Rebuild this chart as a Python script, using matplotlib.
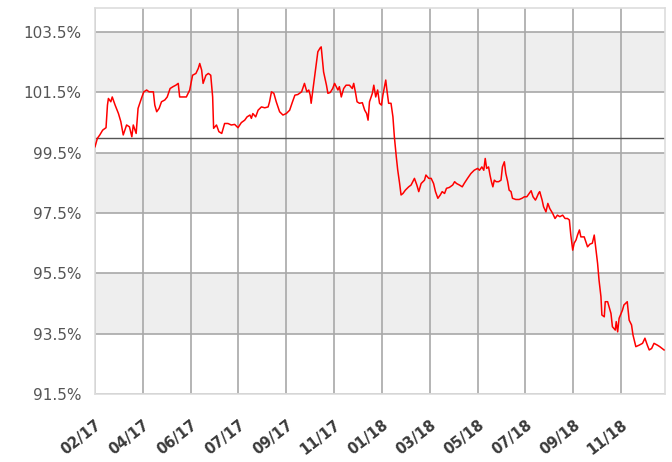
import matplotlib
matplotlib.use("Agg")
import matplotlib.pyplot as plt
import matplotlib.transforms as mtransforms

# donnees (abscisse en nb d'intervalles entre reperes)
etiquettes = ["02/17", "04/17", "06/17", "07/17", "09/17", "11/17",
              "01/18", "03/18", "05/18", "07/18", "09/18", "11/18"]
graduations_y = [91.5, 93.5, 95.5, 97.5, 99.5, 101.5, 103.5]

abscisses = [
    0.00, 0.05, 0.10, 0.16, 0.23, 0.26, 0.28, 0.33, 0.36, 0.42, 0.49, 0.54,
    0.59, 0.66, 0.72, 0.77, 0.80, 0.86, 0.90, 0.97, 1.02, 1.08, 1.13, 1.22,
    1.25, 1.29, 1.34, 1.39, 1.46, 1.51, 1.57, 1.63, 1.69, 1.74, 1.77, 1.84,
    1.91, 1.98, 2.04, 2.11, 2.16, 2.19, 2.23, 2.26, 2.32, 2.37, 2.42, 2.46,
    2.48, 2.54, 2.59, 2.65, 2.71, 2.78, 2.85, 2.92, 2.99, 3.06, 3.13, 3.18,
    3.24, 3.27, 3.30, 3.36, 3.41, 3.48, 3.55, 3.62, 3.65, 3.69, 3.74, 3.79,
    3.86, 3.93, 4.00, 4.07, 4.13, 4.18, 4.24, 4.32, 4.38, 4.43, 4.47, 4.50,
    4.52, 4.56, 4.61, 4.66, 4.71, 4.73, 4.78, 4.84, 4.87, 4.92, 4.97, 5.01,
    5.08, 5.11, 5.15, 5.20, 5.25, 5.32, 5.38, 5.41, 5.45, 5.48, 5.53, 5.59,
    5.64, 5.68, 5.71, 5.74, 5.80, 5.83, 5.87, 5.91, 5.95, 5.99, 6.02, 6.08,
    6.10, 6.14, 6.19, 6.23, 6.26, 6.30, 6.33, 6.37, 6.40, 6.44, 6.49, 6.56,
    6.61, 6.68, 6.73, 6.77, 6.82, 6.89, 6.92, 6.98, 7.03, 7.08, 7.12, 7.17,
    7.22, 7.26, 7.31, 7.35, 7.41, 7.48, 7.52, 7.56, 7.62, 7.68, 7.72, 7.79,
    7.86, 7.93, 8.00, 8.04, 8.09, 8.13, 8.16, 8.19, 8.23, 8.26, 8.29, 8.32,
    8.35, 8.39, 8.44, 8.49, 8.52, 8.56, 8.59, 8.63, 8.66, 8.70, 8.73, 8.80,
    8.87, 8.93, 8.98, 9.03, 9.08, 9.12, 9.16, 9.21, 9.23, 9.28, 9.30, 9.35,
    9.38, 9.43, 9.47, 9.51, 9.57, 9.62, 9.67, 9.72, 9.78, 9.83, 9.88, 9.92,
    9.95, 9.99, 10.02, 10.06, 10.09, 10.13, 10.16, 10.23, 10.30, 10.35, 10.40, 10.44,
    10.47, 10.51, 10.54, 10.58, 10.60, 10.65, 10.67, 10.72, 10.75, 10.79, 10.82, 10.88,
    10.90, 10.93, 10.96, 11.03, 11.06, 11.13, 11.17, 11.22, 11.25, 11.31, 11.38, 11.45,
    11.50, 11.55, 11.59, 11.64, 11.69, 11.76, 11.81, 11.90,
]
valeurs = [
    99.70, 99.98, 100.09, 100.25, 100.33, 101.08, 101.30, 101.19, 101.35, 101.08, 100.80, 100.53,
    100.09, 100.42, 100.36, 100.03, 100.42, 100.14, 100.97, 101.30, 101.52, 101.58, 101.52, 101.52,
    101.08, 100.86, 100.97, 101.19, 101.25, 101.35, 101.63, 101.69, 101.74, 101.80, 101.35, 101.35,
    101.35, 101.58, 102.07, 102.13, 102.30, 102.46, 102.24, 101.80, 102.07, 102.13, 102.07, 101.35,
    100.31, 100.42, 100.20, 100.14, 100.47, 100.47, 100.42, 100.44, 100.33, 100.50, 100.58, 100.69,
    100.75, 100.64, 100.80, 100.69, 100.91, 101.02, 100.99, 101.02, 101.19, 101.52, 101.47, 101.19,
    100.86, 100.75, 100.80, 100.91, 101.19, 101.41, 101.43, 101.52, 101.80, 101.52, 101.58, 101.41,
    101.14, 101.63, 102.24, 102.85, 102.98, 103.01, 102.18, 101.74, 101.47, 101.50, 101.63, 101.80,
    101.58, 101.69, 101.35, 101.63, 101.74, 101.74, 101.63, 101.80, 101.47, 101.19, 101.14, 101.16,
    100.91, 100.80, 100.58, 101.19, 101.47, 101.74, 101.35, 101.58, 101.14, 101.08, 101.41, 101.91,
    101.63, 101.14, 101.14, 100.69, 100.03, 99.37, 98.93, 98.48, 98.10, 98.15, 98.26, 98.37,
    98.43, 98.65, 98.43, 98.21, 98.48, 98.59, 98.76, 98.65, 98.65, 98.48, 98.21, 97.99,
    98.10, 98.21, 98.15, 98.32, 98.35, 98.43, 98.54, 98.48, 98.43, 98.37, 98.48, 98.65,
    98.81, 98.92, 98.98, 98.92, 99.03, 98.92, 99.31, 98.98, 99.03, 98.76, 98.54, 98.37,
    98.59, 98.54, 98.54, 98.59, 99.03, 99.20, 98.82, 98.54, 98.26, 98.21, 97.99, 97.95,
    97.95, 97.99, 98.04, 98.04, 98.15, 98.24, 98.04, 97.93, 97.99, 98.17, 98.21, 97.93,
    97.71, 97.54, 97.82, 97.65, 97.49, 97.32, 97.43, 97.38, 97.43, 97.32, 97.32, 97.27,
    96.77, 96.27, 96.50, 96.61, 96.77, 96.94, 96.71, 96.71, 96.38, 96.47, 96.50, 96.77,
    96.38, 95.83, 95.28, 94.73, 94.12, 94.06, 94.56, 94.56, 94.39, 94.17, 93.73, 93.62,
    93.90, 93.56, 94.01, 94.28, 94.45, 94.56, 93.95, 93.79, 93.46, 93.07, 93.12, 93.18,
    93.35, 93.12, 92.96, 93.01, 93.18, 93.12, 93.07, 92.96,
]
reference = 100.0
bandes = [(93.5, 95.5), (97.5, 99.5), (101.5, 103.5)]

fig = plt.figure(figsize=(6.72, 4.62), dpi=100)
ax = fig.add_axes([0.1414, 0.1472, 0.8482, 0.8355])

# bandes grises une sur deux
xmax = 11.92
for bas, haut in bandes:
    ax.fill_between([0, xmax], bas, haut, facecolor="#eeeeee", edgecolor="none", zorder=0)

ax.set_xlim(0, xmax)
ax.set_ylim(91.5, 104.3)

ax.set_yticks(graduations_y)
ax.set_yticklabels([f"{g}%" for g in graduations_y])
ax.set_xticks(range(len(etiquettes)))
ax.set_xticklabels(etiquettes, rotation=38, ha="right", va="top",
                   rotation_mode="anchor", fontweight="bold", fontsize=10.5,
                   color="#3a3a3a")
decal = mtransforms.ScaledTranslation(-4 / 100, 0, fig.dpi_scale_trans)
for lab in ax.get_xticklabels():
    lab.set_transform(lab.get_transform() + decal)

ax.grid(True, color="#a8a8a8", linewidth=1.2)
ax.set_axisbelow(True)
ax.tick_params(length=0)
ax.tick_params(axis="y", pad=10, labelsize=11, labelcolor="#555555")
ax.tick_params(axis="x", pad=17)
for s in ax.spines.values():
    s.set_color("#dddddd")
    s.set_linewidth(1.2)

ax.axhline(reference, color="#555555", linewidth=1.0, zorder=2)
ax.plot(abscisses, valeurs, color="#ff0000", linewidth=1.1, zorder=3)

fig.savefig("out.png", dpi=100)
